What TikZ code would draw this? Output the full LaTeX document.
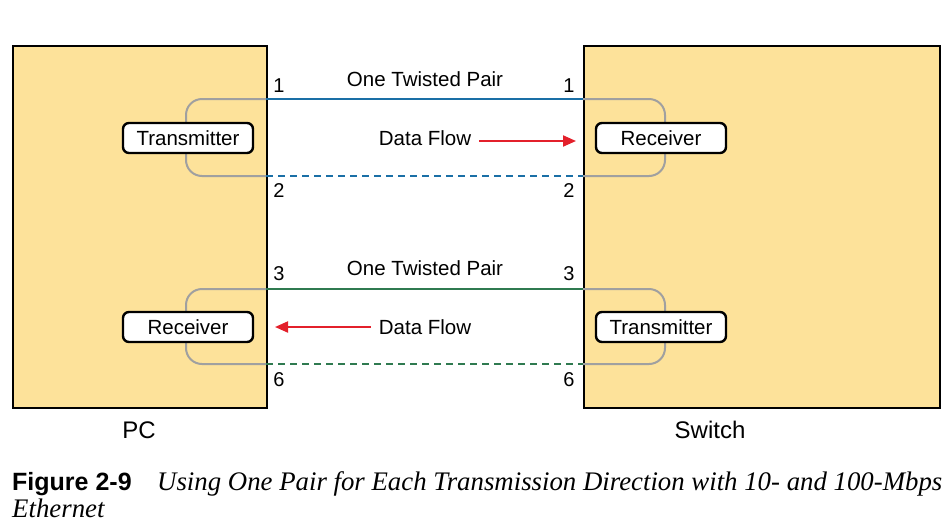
\documentclass[tikz,border=0pt]{standalone}
\usepackage{fontspec}
\setmainfont{Liberation Sans}
\newfontfamily\capserif{Liberation Serif}
\usetikzlibrary{arrows.meta}
\definecolor{devfill}{HTML}{FDE29A}
\definecolor{pairblue}{HTML}{1A6FA6}
\definecolor{pairgreen}{HTML}{2F7A50}
\definecolor{loopgray}{HTML}{A0A0A0}
\definecolor{flowred}{HTML}{E3202B}
\tikzset{
  device/.style={draw=black, line width=2.2pt, fill=devfill, anchor=north west, inner sep=0pt},
  port/.style={draw=black, line width=2.4pt, fill=white, rounded corners=6pt,
    minimum width=130pt, minimum height=30pt, inner sep=0pt,
    font=\fontsize{20.5}{24}\selectfont},
  pairline/.style={line width=2pt},
  dashpair/.style={line width=2pt, dash pattern=on 7pt off 5pt},
  loopline/.style={draw=loopgray, line width=2pt, rounded corners=16pt},
  flow/.style={draw=flowred, line width=2pt, -{Triangle[length=13pt,width=11pt]}},
  label/.style={font=\fontsize{20.5}{24}\selectfont, inner sep=0pt},
  pin/.style={font=\fontsize{20}{22}\selectfont, inner sep=0pt},
  devname/.style={font=\fontsize{24}{28}\selectfont, inner sep=0pt}
}
\begin{document}
\begin{tikzpicture}[x=1pt, y=-1pt]
\useasboundingbox (0,0) rectangle (952,528);

% the two devices
\node[device, minimum width=254pt, minimum height=362pt] (pc) at (12,45) {};
\node[device, minimum width=356pt, minimum height=362pt] (sw) at (583,45) {};

% wire ends on each device edge
\coordinate (l1) at (266,99);  \coordinate (r1) at (583,99);
\coordinate (l2) at (266,176); \coordinate (r2) at (583,176);
\coordinate (l3) at (266,289); \coordinate (r3) at (583,289);
\coordinate (l6) at (266,364); \coordinate (r6) at (583,364);

% internal loops through the transmit/receive circuits
\draw[loopline] (l1) -| (186,138) |- (l2);
\draw[loopline] (l3) -| (186,327) |- (l6);
\draw[loopline] (r1) -| (665,138) |- (r2);
\draw[loopline] (r3) -| (665,327) |- (r6);

% transmit and receive circuits
\node[port] (pctx) at (188,138) {Transmitter};
\node[port] (pcrx) at (188,327) {Receiver};
\node[port] (swrx) at (661,138) {Receiver};
\node[port] (swtx) at (661,327) {Transmitter};

% the two twisted pairs
\draw[pairline, pairblue] (l1) -- (r1);
\draw[dashpair, pairblue] (l2) -- (r2);
\draw[pairline, pairgreen] (l3) -- (r3);
\draw[dashpair, pairgreen] (l6) -- (r6);

\node[label] (tp1) at (425,79) {One Twisted Pair};
\node[label] (tp2) at (425,268) {One Twisted Pair};

% pin numbers
\node[pin] (p1l) at (279,86) {1};  \node[pin] (p1r) at (569,86) {1};
\node[pin] (p2l) at (279,191) {2}; \node[pin] (p2r) at (569,191) {2};
\node[pin] (p3l) at (279,274) {3}; \node[pin] (p3r) at (569,274) {3};
\node[pin] (p6l) at (279,380) {6}; \node[pin] (p6r) at (569,380) {6};

% data flow directions
\node[label] (df1) at (425,138) {Data Flow};
\coordinate (df1end) at (576,141);
\draw[flow] (df1.east |- df1end) ++(8,0) -- (df1end);
\node[label] (df2) at (425,327) {Data Flow};
\coordinate (df2end) at (275,327);
\draw[flow] (df2.west |- df2end) ++(-8,0) -- (df2end);

% device names
\node[devname] (pcname) at (139,430) {PC};
\node[devname] (swname) at (710,430) {Switch};

% caption
\node[anchor=base west, inner sep=0pt, font=\fontsize{25}{29}\bfseries\selectfont] (fig) at (12,490) {Figure 2-9};
\node[anchor=base west, inner sep=0pt, font=\capserif\itshape\fontsize{26.8}{31}\selectfont] (cap1) at (157,490) {Using One Pair for Each Transmission Direction with 10- and 100-Mbps};
\node[anchor=base west, inner sep=0pt, font=\capserif\itshape\fontsize{26.8}{31}\selectfont] (cap2) at (12,517) {Ethernet};
\end{tikzpicture}
\end{document}
